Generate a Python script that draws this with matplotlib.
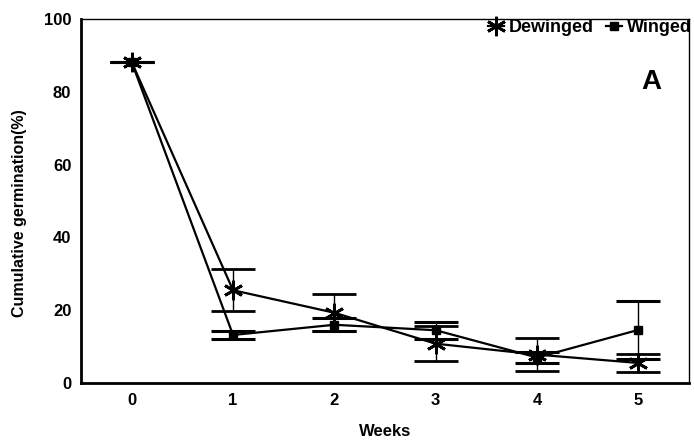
import matplotlib.pyplot as plt
import numpy as np

# Cumulative germination (%) by week since dispersal
weeks = [0, 1, 2, 3, 4, 5]
dewinged = [88.2, 25.5, 19.3, 10.8, 7.8, 5.5]
dewinged_err = [0.0, 5.8, 5.1, 4.8, 4.5, 2.4]
winged = [88.2, 13.2, 16.0, 14.5, 7.0, 14.6]
winged_err = [0.0, 1.1, 1.8, 2.3, 1.6, 7.9]

plt.rcParams['font.family'] = ['Liberation Sans', 'DejaVu Sans']
plt.rcParams['font.weight'] = 'bold'

fig = plt.figure(figsize=(6.94, 4.44), dpi=100)
ax = fig.add_axes([0.1167, 0.1374, 0.8763, 0.8196])

asterisk = (6, 2, 0)
ax.errorbar(weeks, dewinged, yerr=dewinged_err, color='black', linewidth=1.6,
            marker=asterisk, markersize=14, markeredgewidth=2.0,
            elinewidth=1.0, capsize=16, capthick=2.2, label='Dewinged')
ax.errorbar(weeks, winged, yerr=winged_err, color='black', linewidth=1.6,
            marker='s', markersize=6, elinewidth=1.0, capsize=16,
            capthick=2.2, label='Winged')

ax.set_xlim(-0.5, 5.5)
ax.set_ylim(0, 100)
ax.set_xticks(weeks)
ax.set_yticks([0, 20, 40, 60, 80, 100])
ax.tick_params(length=0, labelsize=12, pad=7)
for lbl in ax.get_xticklabels() + ax.get_yticklabels():
    lbl.set_fontweight('bold')

ax.spines['left'].set_linewidth(2.0)
ax.spines['bottom'].set_linewidth(2.0)
ax.spines['top'].set_linewidth(1.0)
ax.spines['right'].set_linewidth(1.0)

ax.set_xlabel('Weeks', fontsize=12, fontweight='bold')
ax.xaxis.set_label_coords(0.5, -0.113)
ax.set_ylabel('Cumulative germination(%)', fontsize=11.5, fontweight='bold')
ax.yaxis.set_label_coords(-0.089, 0.467)

handles, labels = ax.get_legend_handles_labels()
handles = [h[0] for h in handles]
ax.legend(handles, labels, loc='upper right', bbox_to_anchor=(1.01, 1.01),
          frameon=False, ncol=2, fontsize=13, handlelength=0.9,
          handletextpad=0.25, columnspacing=0.7, borderaxespad=0.0,
          borderpad=0.2)

ax.text(0.9375, 0.827, 'A', transform=ax.transAxes, fontsize=20,
        fontweight='bold', ha='center', va='center')

fig.savefig('out.png', dpi=100)
